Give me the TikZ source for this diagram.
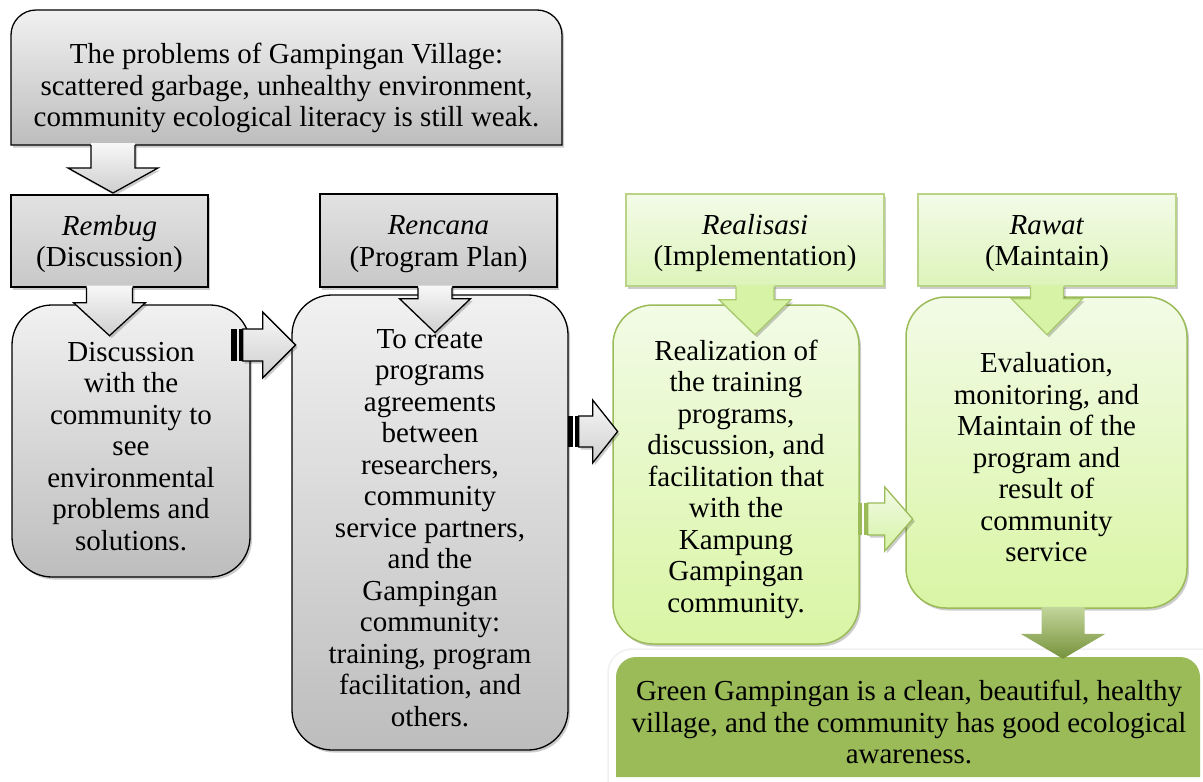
\documentclass[tikz,border=0pt]{standalone}
\usepackage{fontspec}
\setmainfont{Liberation Serif}
\usetikzlibrary{calc}
\definecolor{gTop}{HTML}{F1F1F1}
\definecolor{gBot}{HTML}{BDBDBD}
\definecolor{ghTop}{HTML}{E2E2E2}
\definecolor{ghBot}{HTML}{C8C8C8}
\definecolor{lhTop}{HTML}{F3FBE8}
\definecolor{lhBot}{HTML}{DDF4BA}
\definecolor{lhLine}{HTML}{B9D486}
\definecolor{lbTop}{HTML}{F2FBE6}
\definecolor{lbBot}{HTML}{D9F5A4}
\definecolor{lbLine}{HTML}{9BBB59}
\definecolor{laFill}{HTML}{D6F3A6}
\definecolor{laLine}{HTML}{A9C96E}
\definecolor{resGreen}{HTML}{9BBB59}
\definecolor{resDark}{HTML}{76923C}
\definecolor{resLight}{HTML}{C3D69B}
% #1 fill style, #2 line style, #3 stem half width, #4 stem length, #5 head half width, #6 head length
\newcommand\downarr[6]{%
  \path[#1] (-#3,-2) -- (#3,-2) -- (#3,#4) -- (#5,#4) -- (0,#4+#6) -- (-#5,#4) -- (-#3,#4) -- cycle;
  \draw[#2] (-#3,0) -- (-#3,#4) -- (-#5,#4) -- (0,#4+#6) -- (#5,#4) -- (#3,#4) -- (#3,0);}
\newcommand\bodystrut{\rule{0pt}{30pt}}
\newcommand\hdrstrut{\rule{0pt}{26pt}}
\begin{document}
\begin{tikzpicture}[x=1pt,y=-1pt,
  txt/.style={font=\fontsize{29}{31.5}\selectfont, align=center, text=black, inner sep=0pt},
  shad/.style={preaction={fill=black,opacity=.2,transform canvas={xshift=2pt,yshift=-2.5pt}}},
  graybody/.style={txt, shad, draw=black, line width=1.3pt, rounded corners=40pt, top color=gTop, bottom color=gBot},
  grayhdr/.style={txt, shad, draw=black, line width=1.3pt, top color=ghTop, bottom color=ghBot},
  greenhdr/.style={txt, shad, draw=lhLine, line width=1.5pt, top color=lhTop, bottom color=lhBot},
  greenbody/.style={txt, shad, draw=lbLine, line width=1.5pt, rounded corners=40pt, top color=lbTop, bottom color=lbBot},
  grayfill/.style={top color=gray!6, bottom color=gray!38, shad},
  grayline/.style={draw=black, line width=1.3pt},
  greenfill/.style={fill=laFill, shad},
  greenline/.style={draw=laLine, line width=1.3pt},
  grayarrow/.style={grayline, grayfill},
  lgarrow/.style={draw=lbLine, line width=1.3pt, top color=lbTop, bottom color=laFill, shad},
  botfill/.style={top color=resLight, bottom color=resDark},
  noline/.style={draw=none}
]
\useasboundingbox (0,0) rectangle (1203,782);

% ---------- top problem box ----------
\path[grayhdr, top color=gTop, bottom color=gBot] (11,145) -- (11,35) .. controls (11,21.2) and (22.2,10) .. (36,10) -- (537,10) .. controls (550.8,10) and (562,21.2) .. (562,35) -- (562,145) -- cycle;
\node[txt] (top) at (286.5,88) {The problems of Gampingan Village:\\scattered garbage, unhealthy environment,\\community ecological literacy is still weak.};
\coordinate (topS) at (113,145);

% ---------- Rembug ----------
\node[grayhdr, minimum width=197pt, minimum height=92pt] (rembug) at (109.5,241) {\hdrstrut\textit{Rembug}\\(Discussion)};
\begin{scope}[shift={(topS)}]\downarr{grayfill}{grayline}{22}{23}{45}{25}\end{scope}
\node[graybody, minimum width=238pt, minimum height=272pt] (disc) at (131,441)
  {\bodystrut Discussion\\with the\\community to\\see\\environmental\\problems and\\solutions.};
\begin{scope}[shift={(rembug.south)}]\downarr{grayfill}{grayline}{23}{15}{36}{33}\end{scope}

% ---------- Rencana ----------
\node[grayhdr, minimum width=237pt, minimum height=93pt] (rencana) at (438.5,240.5) {\hdrstrut\textit{Rencana}\\(Program Plan)};
\node[graybody, minimum width=276pt, minimum height=455pt] (plan) at (430,522.5)
  {\bodystrut To create\\programs\\agreements\\between\\researchers,\\community\\service partners,\\and the\\Gampingan\\community:\\training, program\\facilitation, and\\others.};
\begin{scope}[shift={($(rencana.south)+(-3.5,0)$)}]\downarr{grayfill}{grayline}{17}{11}{35.5}{34}\end{scope}

% ---------- arrow Discussion -> Plan ----------
\begin{scope}[shift={($(disc.east)+(-20,-96)$)}]
  \path[grayarrow] (12,-16) -- (32,-16) -- (32,-33) -- (65,0) -- (32,33) -- (32,16) -- (12,16) -- cycle;
  \fill[black] (0,-16) rectangle (6,16);
  \fill[black] (8,-16) rectangle (12,16);
\end{scope}

% ---------- Realisasi ----------
\node[greenhdr, minimum width=258pt, minimum height=92pt] (realisasi) at (755,240) {\hdrstrut\textit{Realisasi}\\(Implementation)};
\node[greenbody, minimum width=246pt, minimum height=339pt] (real) at (736,474.5)
  {\bodystrut Realization of\\the training\\programs,\\discussion, and\\facilitation that\\with the\\Kampung\\Gampingan\\community.};
\begin{scope}[shift={(realisasi.south)}]\downarr{greenfill}{greenline}{19}{13}{36}{35}\end{scope}

% ---------- Rawat ----------
\node[greenhdr, minimum width=258pt, minimum height=92pt] (rawat) at (1047,240) {\hdrstrut\textit{Rawat}\\(Maintain)};
\node[greenbody, minimum width=281pt, minimum height=311pt] (eval) at (1046.5,452.5)
  {\bodystrut Evaluation,\\monitoring, and\\Maintain of the\\program and\\result of\\community\\service};
\begin{scope}[shift={(rawat.south)}]\downarr{greenfill}{greenline}{16.5}{12}{35.5}{36}\end{scope}

% ---------- arrow Plan -> Realization ----------
\begin{scope}[shift={($(plan.east)+(-1,-91)$)}]
  \path[grayarrow] (11,-15.5) -- (25,-15.5) -- (25,-31.5) -- (50,0) -- (25,31.5) -- (25,15.5) -- (11,15.5) -- cycle;
  \fill[black] (0,-15.5) rectangle (5,15.5);
  \fill[black] (7,-15.5) rectangle (11,15.5);
\end{scope}

% ---------- arrow Realization -> Evaluation ----------
\begin{scope}[shift={($(real.east)+(-2,44.5)$)}]
  \path[lgarrow] (10,-16) -- (27,-16) -- (27,-32) -- (55,0) -- (27,32) -- (27,16) -- (10,16) -- cycle;
  \fill[lbLine] (0,-16) rectangle (4,16);
  \fill[lbLine] (6,-16) rectangle (10,16);
\end{scope}

% ---------- result ----------
\path[fill=white, draw=gray!12, line width=1.5pt, rounded corners=24pt] (608,649) rectangle (1230,810);
\path[fill=resGreen] (616,777) -- (616,677) .. controls (616,666) and (625,657) .. (636,657) -- (1180,657) .. controls (1191,657) and (1200,666) .. (1200,677) -- (1200,777) -- cycle;
\node[txt] (result) at (909,722) {Green Gampingan is a clean, beautiful, healthy\\village, and the community has good ecological\\awareness.};
\begin{scope}[shift={($(eval.south)+(16.5,0)$)}]\downarr{botfill}{noline}{21.5}{25}{42.5}{25}\end{scope}
\end{tikzpicture}
\end{document}
